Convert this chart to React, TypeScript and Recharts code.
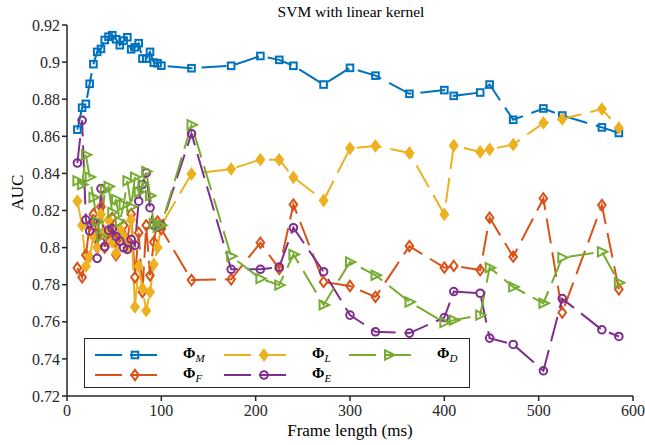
import React from 'react';
import { LineChart, Line, XAxis, YAxis } from 'recharts';

// frame lengths (ms) shared by every feature set
const frameLength = [
  11, 16, 20, 24, 28, 32, 36, 40, 44, 48, 52, 56, 60, 64, 68, 72, 76, 80, 84, 88, 92, 96, 100,
  132, 174, 205, 225, 240, 272, 300, 327, 363, 400, 410, 438, 448, 473, 505, 525, 567, 585,
];

const aucM = [
  0.8636, 0.8754, 0.8775, 0.8883, 0.8989, 0.9055, 0.9071, 0.9119, 0.9137, 0.9145, 0.9123, 0.9091,
  0.9116, 0.9134, 0.9069, 0.908, 0.9102, 0.9019, 0.9019, 0.9055, 0.8997, 0.8994, 0.8981,
  0.8967, 0.898, 0.9033, 0.9012, 0.898, 0.8879, 0.8969, 0.8927, 0.8829, 0.8849, 0.8818, 0.8836,
  0.8879, 0.8689, 0.875, 0.8712, 0.8648, 0.8618,
];
const aucF = [
  0.789, 0.784, 0.796, 0.812, 0.818, 0.806, 0.822, 0.8, 0.808, 0.816, 0.796, 0.806, 0.812,
  0.804, 0.818, 0.784, 0.808, 0.776, 0.812, 0.785, 0.803, 0.814, 0.81,
  0.7825, 0.7829, 0.8026, 0.7885, 0.8232, 0.7815, 0.7793, 0.7734, 0.8008, 0.7892, 0.7901,
  0.7879, 0.8161, 0.7951, 0.8265, 0.765, 0.8229, 0.7775,
];
const aucL = [
  0.825, 0.812, 0.79, 0.795, 0.806, 0.8, 0.818, 0.808, 0.815, 0.803, 0.797, 0.81, 0.806, 0.8,
  0.815, 0.768, 0.79, 0.778, 0.766, 0.776, 0.791, 0.8, 0.812,
  0.8397, 0.8424, 0.8474, 0.8474, 0.8379, 0.8254, 0.8535, 0.8548, 0.851, 0.8179, 0.855, 0.8516,
  0.853, 0.8555, 0.8672, 0.8693, 0.8747, 0.8645,
];
const aucE = [
  0.8456, 0.8686, 0.815, 0.809, 0.8137, 0.7942, 0.8318, 0.8005, 0.8094, 0.8102, 0.806, 0.8035,
  0.7999, 0.799, 0.8044, 0.8012, 0.825, 0.834, 0.8403, 0.8215, 0.812, 0.811, 0.812,
  0.8614, 0.7883, 0.7883, 0.7895, 0.8107, 0.787, 0.7636, 0.7546, 0.7539, 0.7623, 0.7763, 0.7754,
  0.7512, 0.7478, 0.7336, 0.7725, 0.7557, 0.7521,
];
const aucD = [
  0.836, 0.834, 0.85, 0.838, 0.827, 0.814, 0.806, 0.831, 0.833, 0.819, 0.826, 0.814, 0.823,
  0.836, 0.822, 0.838, 0.83, 0.834, 0.841, 0.828, 0.813, 0.811, 0.812,
  0.8662, 0.7954, 0.7833, 0.7798, 0.7963, 0.7691, 0.7922, 0.7851, 0.7707, 0.7596, 0.7609, 0.7636,
  0.7892, 0.7788, 0.77, 0.7946, 0.7978, 0.7811,
];

const xTicks = [0, 100, 200, 300, 400, 500, 600];
const yTicks = [0.72, 0.74, 0.76, 0.78, 0.8, 0.82, 0.84, 0.86, 0.88, 0.9, 0.92];

type Shape = 'square' | 'diamond' | 'diamondFilled' | 'triangle' | 'circle';

const series: { key: string; sub: string; color: string; shape: Shape; values: number[] }[] = [
  { key: 'M', sub: 'M', color: '#0072BD', shape: 'square', values: aucM },
  { key: 'F', sub: 'F', color: '#D95319', shape: 'diamond', values: aucF },
  { key: 'L', sub: 'L', color: '#EDB120', shape: 'diamondFilled', values: aucL },
  { key: 'E', sub: 'E', color: '#7E2F8E', shape: 'circle', values: aucE },
  { key: 'D', sub: 'D', color: '#77AC30', shape: 'triangle', values: aucD },
];

const data = frameLength.map((x, i) => {
  const row: Record<string, number> = { x };
  series.forEach(s => { row[s.key] = s.values[i]; });
  return row;
});

const DASH = '25 9';
const AXIS = '#262626';
const SERIF = "'Liberation Serif', 'DejaVu Serif', serif";

function Marker({ shape, cx, cy, color }: { shape: Shape; cx: number; cy: number; color: string }) {
  const common = { stroke: color, strokeWidth: 2, fill: 'none' };
  switch (shape) {
    case 'square':
      return <rect x={cx - 3.3} y={cy - 3.3} width={6.6} height={6.6} {...common} />;
    case 'diamond':
    case 'diamondFilled':
      return (
        <path
          d={`M${cx},${cy - 5.2}L${cx + 3.8},${cy}L${cx},${cy + 5.2}L${cx - 3.8},${cy}Z`}
          {...common}
          fill={shape === 'diamondFilled' ? color : 'none'}
        />
      );
    case 'triangle':
      return <path d={`M${cx + 5.5},${cy}L${cx - 4},${cy - 4.6}L${cx - 4},${cy + 4.6}Z`} {...common} />;
    default:
      return <circle cx={cx} cy={cy} r={3.8} {...common} />;
  }
}

function LegendItem({ s, left, top }: { s: typeof series[number]; left: number; top: number }) {
  return (
    <div style={{ position: 'absolute', left, top, display: 'flex', alignItems: 'center' }}>
      <svg width={72} height={14} style={{ display: 'block' }}>
        <line x1={0} y1={7} x2={70} y2={7} stroke={s.color} strokeWidth={2} strokeDasharray="27 8" />
        <Marker shape={s.shape} cx={40} cy={7} color={s.color} />
      </svg>
      <span style={{ marginLeft: 16, fontFamily: SERIF, fontSize: 15, fontWeight: 'bold', color: '#000' }}>
        Φ<sub style={{ fontStyle: 'italic', fontWeight: 'normal', fontSize: 11 }}>{s.sub}</sub>
      </span>
    </div>
  );
}

// legend laid out like the original: column-major, two rows
const legendSlots: Record<string, [number, number]> = {
  M: [95, 345],
  F: [95, 365],
  L: [224, 345],
  E: [224, 365],
  D: [349, 345],
};

export default function App() {
  return (
    <div style={{ position: 'absolute', left: 0, top: 0, width: 645, height: 445, background: '#fff' }}>
      <div
        style={{
          position: 'absolute', left: 0, width: 702, top: 3, textAlign: 'center',
          fontFamily: SERIF, fontSize: 15.5, color: '#000',
        }}
      >
        SVM with linear kernel
      </div>
      <LineChart width={645} height={445} data={data} margin={{ top: 25, right: 12, bottom: 0, left: 17 }}>
        <XAxis
          dataKey="x"
          type="number"
          domain={[0, 600]}
          ticks={xTicks}
          height={49}
          tickSize={5}
          tickMargin={4}
          tick={{ fill: '#262626', fontSize: 16, fontFamily: SERIF }}
          axisLine={{ stroke: AXIS, strokeWidth: 1.5 }}
          tickLine={{ stroke: AXIS, strokeWidth: 1.5 }}
          label={{ value: 'Frame length (ms)', position: 'insideBottom', offset: 9, fill: '#000', fontSize: 17, fontFamily: SERIF }}
        />
        <YAxis
          type="number"
          domain={[0.72, 0.92]}
          ticks={yTicks}
          width={50}
          tickSize={5}
          tick={{ fill: '#262626', fontSize: 16, fontFamily: SERIF }}
          axisLine={{ stroke: AXIS, strokeWidth: 1.5 }}
          tickLine={{ stroke: AXIS, strokeWidth: 1.5 }}
          label={{ value: 'AUC', angle: -90, position: 'insideLeft', offset: 0, fill: '#000', fontSize: 17, fontFamily: SERIF }}
        />
        {series.map(s => (
          <Line
            key={s.key}
            dataKey={s.key}
            stroke={s.color}
            strokeWidth={2}
            strokeDasharray={DASH}
            type="linear"
            isAnimationActive={false}
            activeDot={false}
            dot={(p: any) => <Marker key={`${s.key}-${p.index}`} shape={s.shape} cx={p.cx} cy={p.cy} color={s.color} />}
          />
        ))}
      </LineChart>
      <div
        style={{
          position: 'absolute', left: 84, top: 338, width: 386, height: 50,
          border: '1.5px solid #262626', background: '#fff', boxSizing: 'border-box',
        }}
      />
      {series.map(s => (
        <LegendItem key={s.key} s={s} left={legendSlots[s.key][0]} top={legendSlots[s.key][1]} />
      ))}
    </div>
  );
}
